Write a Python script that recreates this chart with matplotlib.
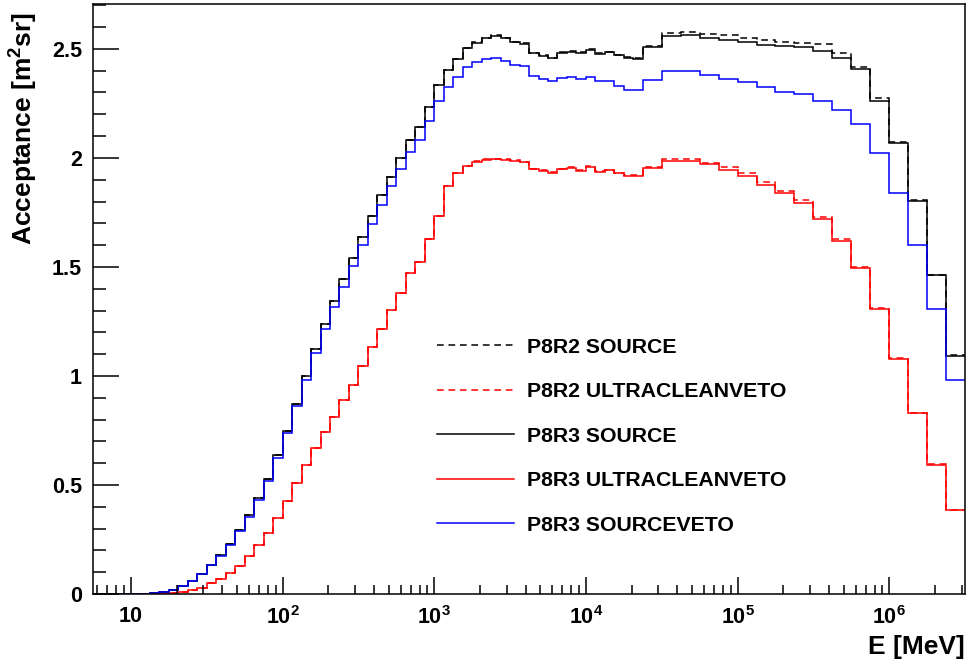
import numpy as np
import matplotlib
matplotlib.use("Agg")
import matplotlib.pyplot as plt
from matplotlib.lines import Line2D
from matplotlib.ticker import FixedLocator, FuncFormatter, NullFormatter

plt.rcParams['font.family'] = ['Liberation Sans', 'DejaVu Sans']
plt.rcParams['font.weight'] = 'bold'
plt.rcParams['mathtext.fontset'] = 'custom'
plt.rcParams['mathtext.rm'] = 'Liberation Sans:bold'
plt.rcParams['mathtext.bf'] = 'Liberation Sans:bold'
plt.rcParams['mathtext.it'] = 'Liberation Sans:bold'
plt.rcParams['mathtext.default'] = 'rm'

# binning: 16 bins/decade up to 10^4.375, then 8 bins/decade up to 10^6.5
log_edges = np.concatenate([np.arange(0.75, 4.375 + 1e-9, 0.0625),
                            np.arange(4.5, 6.5 + 1e-9, 0.125)])
edges = 10 ** log_edges

# acceptance values [m^2 sr] per bin
p8r3_source = [0, 0, 0, 0, 0, 0, 0.005, 0.010, 0.020, 0.037,
               0.061, 0.092, 0.133, 0.179, 0.231, 0.294, 0.361, 0.440, 0.529, 0.636,
               0.749, 0.872, 1.001, 1.125, 1.239, 1.344, 1.443, 1.540, 1.639, 1.735,
               1.829, 1.914, 1.998, 2.083, 2.144, 2.235, 2.333, 2.404, 2.454, 2.505,
               2.529, 2.549, 2.561, 2.549, 2.531, 2.524, 2.479, 2.467, 2.457, 2.483,
               2.486, 2.480, 2.495, 2.476, 2.484, 2.470, 2.456, 2.453,
               2.510, 2.560, 2.563, 2.551, 2.543, 2.530, 2.518, 2.511, 2.509, 2.492,
               2.457, 2.408, 2.263, 2.070, 1.803, 1.462, 1.092]

p8r2_source = [0, 0, 0, 0, 0, 0, 0.005, 0.010, 0.020, 0.037,
               0.061, 0.092, 0.133, 0.179, 0.231, 0.294, 0.361, 0.440, 0.529, 0.636,
               0.749, 0.872, 1.001, 1.125, 1.239, 1.344, 1.443, 1.540, 1.639, 1.735,
               1.829, 1.914, 1.998, 2.083, 2.144, 2.235, 2.333, 2.404, 2.454, 2.505,
               2.530, 2.551, 2.563, 2.551, 2.533, 2.527, 2.482, 2.470, 2.460, 2.486,
               2.488, 2.484, 2.498, 2.480, 2.487, 2.474, 2.462, 2.460,
               2.515, 2.572, 2.578, 2.569, 2.563, 2.549, 2.540, 2.532, 2.526, 2.521,
               2.483, 2.419, 2.274, 2.075, 1.808, 1.465, 1.095]

p8r3_ultraclean = [0, 0, 0, 0, 0, 0, 0, 0, 0.003, 0.011,
                   0.018, 0.029, 0.049, 0.067, 0.095, 0.128, 0.174, 0.225, 0.278, 0.349,
                   0.427, 0.508, 0.592, 0.671, 0.742, 0.813, 0.890, 0.959, 1.047, 1.132,
                   1.216, 1.303, 1.382, 1.474, 1.524, 1.627, 1.735, 1.873, 1.930, 1.965,
                   1.983, 1.991, 1.995, 1.991, 1.988, 1.980, 1.948, 1.942, 1.933, 1.948,
                   1.955, 1.942, 1.960, 1.937, 1.943, 1.930, 1.919, 1.919,
                   1.953, 1.986, 1.986, 1.970, 1.945, 1.918, 1.876, 1.838, 1.795, 1.720,
                   1.621, 1.497, 1.306, 1.078, 0.829, 0.592, 0.385]

p8r2_ultraclean = [0, 0, 0, 0, 0, 0, 0, 0, 0.003, 0.011,
                   0.018, 0.029, 0.049, 0.067, 0.095, 0.128, 0.174, 0.225, 0.278, 0.349,
                   0.427, 0.508, 0.592, 0.671, 0.742, 0.813, 0.890, 0.959, 1.047, 1.132,
                   1.216, 1.303, 1.382, 1.474, 1.524, 1.627, 1.735, 1.873, 1.930, 1.965,
                   1.984, 1.993, 1.997, 1.993, 1.990, 1.982, 1.950, 1.944, 1.936, 1.950,
                   1.957, 1.945, 1.962, 1.940, 1.946, 1.933, 1.923, 1.923,
                   1.960, 1.994, 1.995, 1.976, 1.957, 1.930, 1.888, 1.850, 1.807, 1.731,
                   1.628, 1.500, 1.310, 1.082, 0.831, 0.594, 0.386]

p8r3_sourceveto = [0, 0, 0, 0, 0, 0, 0.005, 0.010, 0.020, 0.037,
                   0.060, 0.090, 0.131, 0.176, 0.226, 0.288, 0.354, 0.430, 0.518, 0.622,
                   0.737, 0.862, 0.982, 1.104, 1.214, 1.318, 1.410, 1.506, 1.602, 1.697,
                   1.786, 1.869, 1.948, 2.029, 2.083, 2.171, 2.263, 2.327, 2.373, 2.418,
                   2.440, 2.453, 2.460, 2.446, 2.425, 2.421, 2.375, 2.362, 2.353, 2.365,
                   2.369, 2.361, 2.369, 2.351, 2.351, 2.332, 2.312, 2.312,
                   2.356, 2.399, 2.397, 2.382, 2.364, 2.346, 2.323, 2.304, 2.294, 2.263,
                   2.220, 2.156, 2.021, 1.841, 1.601, 1.306, 0.982]

labels = ["P8R2 SOURCE", "P8R2 ULTRACLEANVETO", "P8R3 SOURCE",
          "P8R3 ULTRACLEANVETO", "P8R3 SOURCEVETO"]

fig = plt.figure(figsize=(9.67, 6.61), dpi=100)
ax = fig.add_axes([0.0962, 0.1014, 0.9018, 0.8926])

lw = 1.1
dash = (4.4, 3.1)
ax.stairs(p8r2_source, edges, baseline=None, color='black', lw=lw, linestyle=(0, dash))
ax.stairs(p8r2_ultraclean, edges, baseline=None, color='red', lw=lw, linestyle=(0, dash))
ax.stairs(p8r3_source, edges, baseline=None, color='black', lw=lw)
ax.stairs(p8r3_ultraclean, edges, baseline=None, color='red', lw=lw)
ax.stairs(p8r3_sourceveto, edges, baseline=None, color='blue', lw=lw)

ax.set_xscale('log')
ax.set_xlim(edges[0], edges[-1])
ax.set_ylim(0, 2.706)

# ticks, ROOT style
ax.xaxis.set_major_locator(FixedLocator([10.0 ** k for k in range(1, 7)]))
minor = [m * 10.0 ** k for k in range(0, 7) for m in range(2, 10)]
ax.xaxis.set_minor_locator(FixedLocator(minor))
ax.xaxis.set_minor_formatter(NullFormatter())
ax.xaxis.set_major_formatter(FuncFormatter(
    lambda v, p: "10" if abs(v - 10) < 1e-6 else r"$10^{%d}$" % round(np.log10(v))))
ax.set_yticks(np.arange(0, 2.51, 0.5))
ax.set_yticklabels(["0", "0.5", "1", "1.5", "2", "2.5"])
ax.set_yticks(np.arange(0, 2.71, 0.1), minor=True)

ax.tick_params(axis='both', which='both', direction='in', top=False, right=False,
               width=1.1, labelsize=15.5)
ax.tick_params(axis='y', which='major', length=19, pad=8)
ax.tick_params(axis='y', which='minor', length=9.5)
ax.tick_params(axis='x', which='major', length=12.5, pad=9)
ax.tick_params(axis='x', which='minor', length=6.5)
for s in ax.spines.values():
    s.set_linewidth(1.1)

ax.set_xlabel("E [MeV]", loc='right', fontsize=19, fontweight='bold', labelpad=4)
ax.set_ylabel(r"Acceptance [m$^{2}$sr]", loc='top', fontsize=19, fontweight='bold')
ax.yaxis.set_label_coords(-0.061, 0.986)

handles = [Line2D([], [], color='black', lw=lw, linestyle=(0, dash)),
           Line2D([], [], color='red', lw=lw, linestyle=(0, dash)),
           Line2D([], [], color='black', lw=lw),
           Line2D([], [], color='red', lw=lw),
           Line2D([], [], color='blue', lw=lw)]
ax.legend(handles, labels, loc='upper left', bbox_to_anchor=(0.385, 0.449), frameon=False,
          prop={'size': 15.3, 'weight': 'bold'}, handlelength=3.6, handletextpad=0.62,
          labelspacing=1.2, borderaxespad=0)

fig.savefig("out.png", dpi=100)
